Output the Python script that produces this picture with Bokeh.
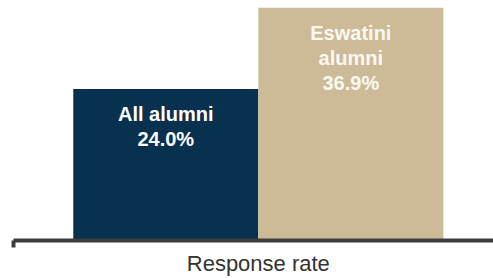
from bokeh.plotting import figure
from bokeh.models import ColumnDataSource, Range1d, FixedTicker
from bokeh.core.properties import value
from bokeh.embed import file_html
from bokeh.resources import INLINE

# ---- data ----
categories = ["All alumni", "Eswatini alumni"]
bar_labels = ["All alumni", "Eswatini\nalumni"]
response_rate = [24.0, 36.9]
axis_title = "Response rate"

colors = ["#08304f", "#cdbb98"]
text_colors = ["#ffffff", "#fbf8f2"]

xs = list(range(len(categories)))
src = ColumnDataSource(dict(
    x=xs,
    top=response_rate,
    color=colors,
    tcolor=text_colors,
    label=[f"{b}\n{v:.1f}%" for b, v in zip(bar_labels, response_rate)],
))

x_start, x_end = -0.823, 1.771
p = figure(width=493, height=278, output_backend="svg", toolbar_location=None,
           x_range=Range1d(x_start, x_end), y_range=Range1d(0, 36.9),
           y_axis_location=None, min_border_left=13, min_border_right=0,
           min_border_top=7, min_border_bottom=34)
p.outline_line_color = None
p.xgrid.visible = False
p.ygrid.visible = False
p.background_fill_color = "white"

p.vbar(x="x", top="top", bottom=0, width=1.0, fill_color="color", line_color=None, source=src)
p.text(x="x", y="top", text="label", source=src, text_color="tcolor",
       text_font=value("Liberation Sans"), text_font_style="bold",
       text_font_size="20px", text_align="center", text_baseline="top",
       text_line_height=1.15, y_offset=14)

ax = p.xaxis[0]
center = (xs[0] + xs[-1]) / 2
ax.ticker = FixedTicker(ticks=[center], minor_ticks=[x_start])
ax.major_label_overrides = {center: axis_title}
ax.major_label_text_font = "Liberation Sans"
ax.major_label_text_font_size = "22px"
ax.major_label_text_color = "#333333"
ax.major_label_standoff = 3
ax.major_tick_out = 0
ax.major_tick_in = 0
ax.minor_tick_out = 7
ax.minor_tick_in = 0
ax.minor_tick_line_width = 4
ax.minor_tick_line_color = "#3d3d3d"
ax.axis_line_width = 4
ax.axis_line_color = "#3d3d3d"

open("out.html", "w").write(file_html(p, INLINE))
